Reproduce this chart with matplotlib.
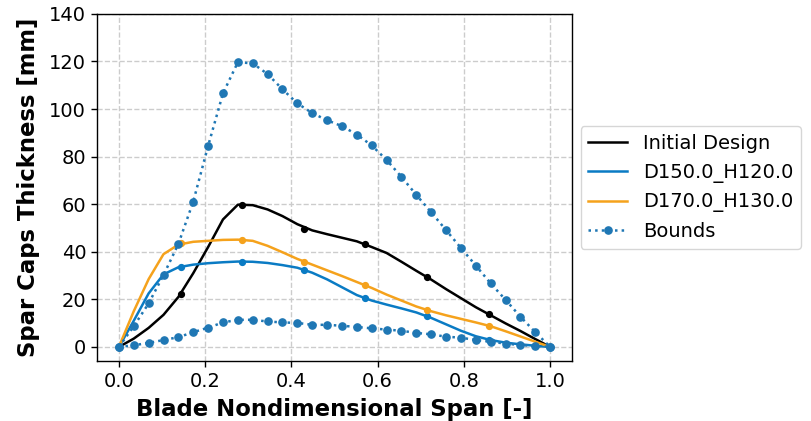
import numpy as np
import matplotlib
matplotlib.use("Agg")
import matplotlib.pyplot as plt

# Spanwise stations of the fine grid and of the design control points
span_fine = np.linspace(0.0, 1.0, 30)
span_ctrl = np.linspace(0.0, 1.0, 8)

# Design control point thicknesses [mm]
initial_ctrl = [0.0, 22.3, 59.8, 49.7, 43.2, 29.2, 13.8, 0.0]
d150_ctrl = [0.0, 33.8, 35.9, 32.4, 20.4, 12.9, 3.1, 0.0]
d170_ctrl = [0.0, 43.5, 45.0, 35.9, 26.0, 15.5, 8.9, 0.0]

# Smooth thickness distributions on the fine grid [mm]
initial_fine = [0.0, 3.5, 8.0, 13.5, 21.0, 31.0, 42.0, 53.6, 59.8, 59.6,
                57.8, 55.0, 51.6, 49.0, 47.4, 45.9, 44.4, 42.0, 39.5, 35.8,
                32.0, 28.3, 24.3, 20.5, 16.7, 13.3, 9.9, 6.7, 3.3, 0.0]
d150_fine = [0.0, 11.0, 22.5, 30.5, 33.5, 34.6, 35.2, 35.6, 35.9, 35.8,
             35.3, 34.4, 33.3, 31.2, 28.4, 25.1, 21.8, 19.5, 17.8, 16.2,
             14.5, 12.2, 9.5, 6.8, 4.5, 2.9, 1.8, 1.1, 0.5, 0.0]
d170_fine = [0.0, 15.0, 28.5, 39.0, 43.0, 44.2, 44.6, 45.0, 45.1, 44.6,
             42.5, 39.8, 37.0, 34.6, 32.2, 29.8, 27.3, 24.8, 22.0, 19.5,
             17.0, 15.0, 13.3, 11.8, 10.3, 8.7, 6.6, 4.4, 2.2, 0.0]

# Upper and lower thickness bounds on the fine grid [mm]
upper_bound = [0.0, 8.7, 18.3, 30.2, 43.3, 61.1, 84.5, 106.6, 119.7, 119.2,
               114.7, 108.3, 102.4, 98.3, 95.3, 92.8, 89.3, 84.7, 78.6, 71.5,
               63.9, 56.6, 49.1, 41.6, 34.2, 26.7, 19.8, 12.7, 6.2, 0.0]
lower_bound = [0.0, 0.7, 1.7, 2.9, 4.1, 6.2, 8.1, 10.3, 11.4, 11.4,
               10.7, 10.3, 10.1, 9.3, 9.3, 8.9, 8.4, 7.8, 7.3, 6.8,
               5.9, 5.3, 4.3, 3.9, 2.9, 2.2, 1.4, 0.8, 0.4, 0.0]

labels = ["Initial Design", "D150.0_H120.0", "D170.0_H130.0", "Bounds"]
colors = ["black", "#0a7bc4", "#f5a21c", "#1f77b4"]

fig = plt.figure(figsize=(8.11, 4.21), dpi=100)
ax = fig.add_axes([0.120, 0.142, 0.585, 0.825])

designs = [(initial_fine, initial_ctrl), (d150_fine, d150_ctrl), (d170_fine, d170_ctrl)]
for (fine, ctrl), lab, col in zip(designs, labels[:3], colors[:3]):
    ax.plot(span_fine, fine, color=col, lw=1.8, label=lab)
    ax.plot(span_ctrl, ctrl, ls="none", marker="o", ms=4.2, color=col)

ax.plot(span_fine, upper_bound, ls=":", lw=1.8, marker="o", ms=5.2,
        color=colors[3], label=labels[3])
ax.plot(span_fine, lower_bound, ls=":", lw=1.8, marker="o", ms=5.2,
        color=colors[3])

ax.set_xlim(-0.05, 1.05)
ax.set_ylim(-6, 140)
ax.set_xticks([0.0, 0.2, 0.4, 0.6, 0.8, 1.0])
ax.set_yticks(range(0, 141, 20))
ax.tick_params(labelsize=14, length=4.5, width=1.0)
for sp in ax.spines.values():
    sp.set_linewidth(1.0)
ax.grid(True, ls="--", color="#cccccc", lw=1.0)
ax.set_axisbelow(True)

ax.set_xlabel("Blade Nondimensional Span [-]", fontsize=16.4, fontweight="bold")
ax.set_ylabel("Spar Caps Thickness [mm]", fontsize=16.4, fontweight="bold")
ax.xaxis.set_label_coords(0.5, -0.105)
ax.yaxis.set_label_coords(-0.12, 0.5)

ax.legend(loc="center left", bbox_to_anchor=(1.0, 0.5), fontsize=14,
          borderaxespad=0.45)

fig.savefig("out.png", dpi=100)
